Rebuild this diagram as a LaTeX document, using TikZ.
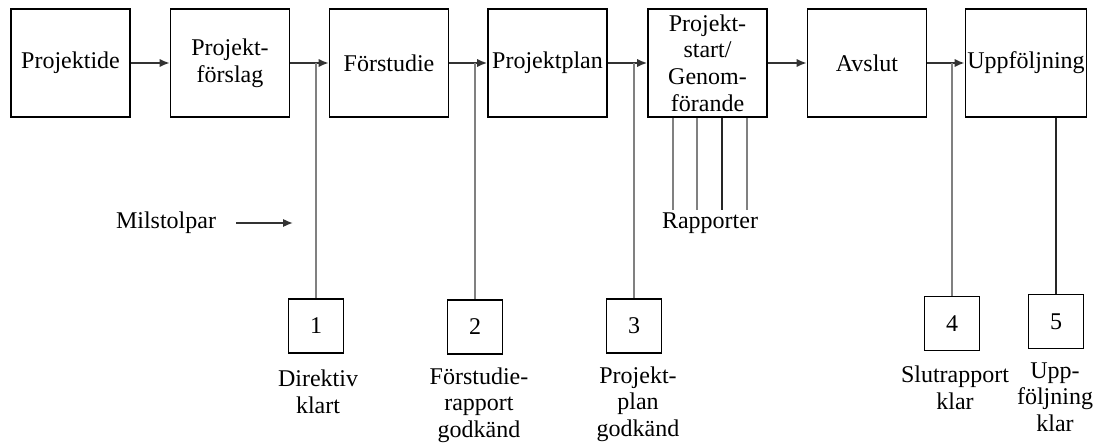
\documentclass[tikz,border=0pt]{standalone}
\usepackage{fontspec}
\setmainfont{Liberation Serif}
\usetikzlibrary{positioning,arrows,arrows.meta}

\tikzset{
  phase/.style={draw=black, line width=0.8pt, minimum width=59.5pt, minimum height=54pt, inner sep=1pt, align=center},
  milestone/.style={draw=black, line width=0.8pt, minimum width=27.5pt, minimum height=27pt, inner sep=0pt},
  flow/.style={-{Latex[length=5pt,width=4.2pt]}, line width=0.9pt, black!80},
  milline/.style={line width=1.1pt, black!50},
  thinline/.style={line width=0.6pt, black!85},
  caption/.style={align=center, inner sep=1pt}
}

\begin{document}
\begin{tikzpicture}[x=0.5pt, y=-0.5pt, font=\fontsize{12}{13.3}\selectfont]
        \useasboundingbox (0,0) rectangle (1098,443);
        % Draw phase boxes
        \node[phase] (idea) at (70.5,63) {Projektide};
        \node[phase] (forslag) at (230,63) {Projekt-\\förslag};
        \node[phase] (forstudie) at (389,63) {Förstudie};
        \node[phase] (plan) at (547.5,63) {Projektplan};
        \node[phase] (genomf) at (707.5,63) {Projekt-\\start/\\Genom-\\förande};
        \node[phase] (avslut) at (867,63) {Avslut};
        \node[phase] (uppf) at (1026,63) {Uppföljning};
        % Draw flow arrows
        \draw[flow] (idea) -- (forslag);
        \draw[flow] (forslag) -- (forstudie);
        \draw[flow] (forstudie) -- (plan);
        \draw[flow] (plan) -- (genomf);
        \draw[flow] (genomf) -- (avslut);
        \draw[flow] (avslut) -- (uppf);
        % Draw milestones
        \node[milestone] (ms1) at (316,326) {1};
        \node[milestone] (ms2) at (475,327) {2};
        \node[milestone] (ms3) at (634,326) {3};
        \node[milestone] (ms4) at (952,323.5) {4};
        \node[milestone] (ms5) at (1056,321.5) {5};
        % Milestone lines from the flow
        \coordinate (t1) at (316,63);
        \coordinate (t2) at (475,63);
        \coordinate (t3) at (634,63);
        \coordinate (t4) at (952,63);
        \draw[milline] (t1) -- (ms1);
        \draw[milline] (t2) -- (ms2);
        \draw[milline] (t3) -- (ms3);
        \draw[milline] (t4) -- (ms4);
        \draw[thinline] (ms5.north) -- (ms5.north |- uppf.south);
        % Label milestones
        \node[caption] (lab1) at (318,392) {Direktiv\\klart};
        \node[caption] (lab2) at (479,405) {Förstudie-\\rapport\\godkänd};
        \node[caption] (lab3) at (638,404) {Projekt-\\plan\\godkänd};
        \node[caption] (lab4) at (955,388) {Slutrapport\\klar};
        \node[caption] (lab5) at (1055,397) {Upp-\\följning\\klar};
        % Milstolpar pointer
        \node[caption] (milst) at (166,223) {Milstolpar};
        \coordinate (milend) at (293,223);
        \draw[flow, shorten <=9pt] (milst) -- (milend);
        % Reports
        \node[caption] (rapp) at (710,223) {Rapporter};
        \foreach \x/\c in {673/milline, 697/milline, 722/thinline, 747/milline}
            \draw[\c] (genomf.south -| \x,0) -- (rapp.north -| \x,0);
    \end{tikzpicture}
\end{document}
